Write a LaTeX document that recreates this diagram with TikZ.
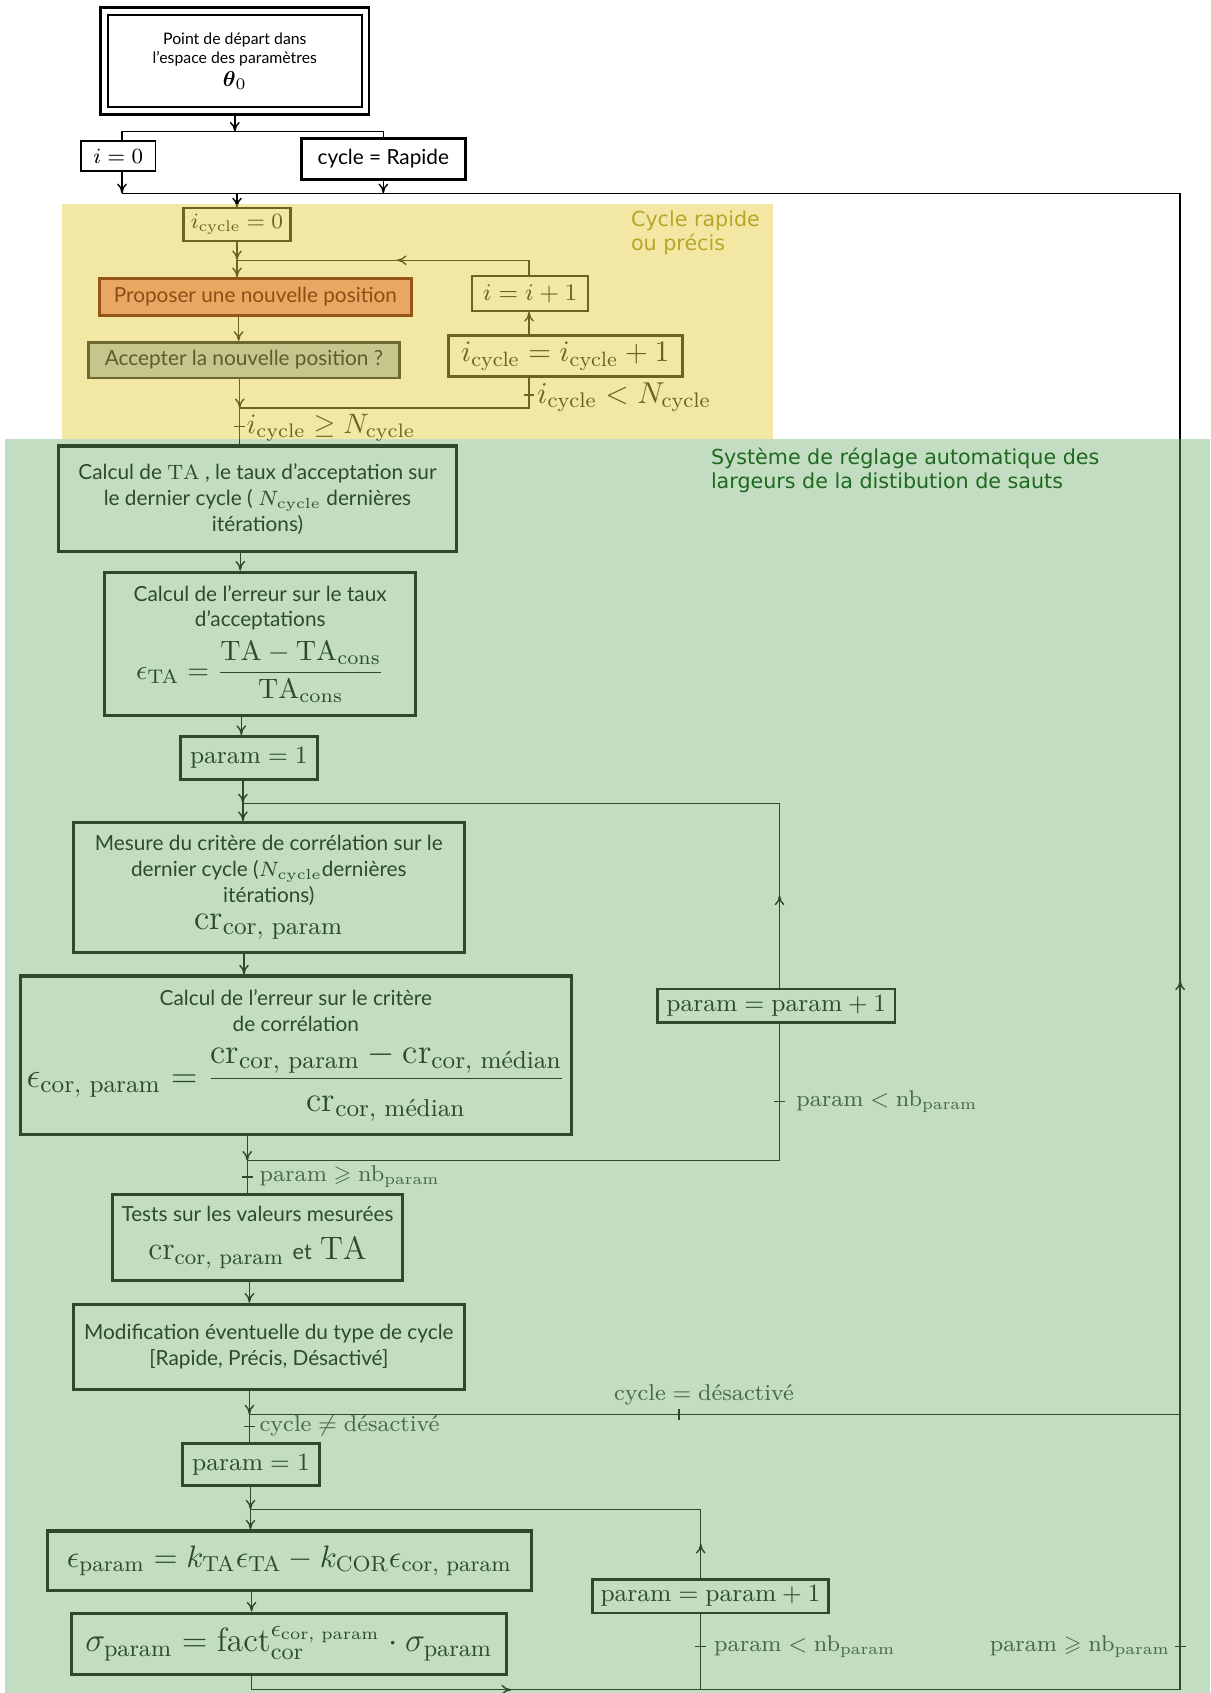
\RequirePackage{fix-cm}
\documentclass[tikz,border=0pt]{standalone}
\usepackage{amsmath,amssymb}
\usepackage{fontspec}
\newfontfamily\gill{Lato}
\newfontfamily\dvs{DejaVu Sans}
\usetikzlibrary{arrows.meta,decorations.markings}
\pgfdeclarelayer{bgl}\pgfdeclarelayer{tint}\pgfdeclarelayer{topl}
\pgfsetlayers{bgl,main,tint,topl}
\newcommand{\txr}[1]{\text{\rmfamily\upshape #1}}
\definecolor{tintY}{rgb}{0.90,0.81,0.25}
\definecolor{tintG}{rgb}{0.43,0.69,0.43}
\definecolor{propFill}{RGB}{232,168,98}
\definecolor{propDraw}{RGB}{150,85,25}
\definecolor{propText}{RGB}{140,78,22}
\definecolor{accFill}{RGB}{197,197,140}
\definecolor{accDraw}{RGB}{105,105,48}
\definecolor{accText}{RGB}{92,92,48}
\definecolor{cycText}{RGB}{184,166,40}
\definecolor{sysText}{RGB}{30,105,30}
\tikzset{
  box/.style={draw, rectangle, inner sep=0pt, align=center},
  wh/.style 2 args={minimum width=#1*0.4pt, minimum height=#2*0.4pt},
  conn/.style={line width=0.52pt},
  arr/.style={conn, -{To[length=3.6pt,width=3.6pt]}},
  midarr/.style={conn, postaction={decorate, decoration={markings, mark=at position #1 with {\arrow{To[length=3.6pt,width=3.6pt]}}}}},
  midarr/.default=0.5,
  tickmark/.style={line width=0.52pt},
  lab/.style={inner sep=0pt, text=black!80, font=\fontsize{8.45}{10}\selectfont},
  gtext/.style={font=\gill\fontsize{7.7}{9.6}\selectfont},
}
\begin{document}
\begin{tikzpicture}[x=0.4pt,y=-0.4pt]
\begin{pgfonlayer}{bgl}
\fill[white] (0,0) rectangle (1121,1568);
\end{pgfonlayer}
\useasboundingbox (0,0) rectangle (1121,1568);

% ---------- top ----------
\node[box, line width=0.88pt, wh={249}{99},
      font=\gill\fontsize{5.86}{7.2}\selectfont] (start) at (217.5,56.5)
  {Point de départ dans\\ l’espace des paramètres\\[1.2pt] {\fontsize{8}{9.6}\selectfont$\boldsymbol{\theta}_0$}};
\draw[line width=0.88pt] ([shift={(8,8)}]start.north west) rectangle ([shift={(-8,-8)}]start.south east);

\node[box, line width=0.72pt, wh={69}{27},
      font=\fontsize{8}{9.6}\selectfont] (ia) at (109.5,144.5) {$i=0$};
\node[box, line width=1.12pt, wh={152}{38},
      font=\gill\fontsize{7.7}{9}\selectfont] (cyc) at (355,147) {cycle = Rapide};

% ---------- yellow part ----------
\node[box, line width=0.8pt, wh={99}{30},
      font=\fontsize{8.1}{10}\selectfont] (icyc0) at (219.5,208) {$i_\txr{cycle}=0$};
\node[box, line width=0.72pt, wh={108}{32},
      font=\fontsize{8.8}{10}\selectfont] (iplus) at (491,272) {$i=i+1$};
\node[box, line width=1.12pt, wh={217}{38},
      font=\fontsize{11}{12}\selectfont] (icycplus) at (523.5,330) {$i_\txr{cycle}=i_\txr{cycle}+1$};
\begin{pgfonlayer}{topl}
\node[box, line width=1pt, draw=propDraw, fill=propFill, text=propText, wh={289}{34},
      font=\gill\fontsize{7.7}{9}\selectfont] (prop) at (236.5,275) {Proposer une nouvelle position};
\node[box, line width=1pt, draw=accDraw, fill=accFill, text=accText, wh={288}{33},
      font=\gill\fontsize{7.7}{9}\selectfont] (acc) at (226,333.5) {Accepter la nouvelle position ?};
\node[anchor=north west, align=left, inner sep=0pt, text=cycText,
      font=\dvs\fontsize{7.65}{8.8}\selectfont] (lcyc) at (584,195) {Cycle rapide\\ou précis};
\node[anchor=north west, align=left, inner sep=0pt, text=sysText,
      font=\dvs\fontsize{7.65}{9.2}\selectfont] (lsys) at (658,414) {Système de réglage automatique des\\largeurs de la distibution de sauts};
\end{pgfonlayer}

% ---------- green part ----------
\node[box, line width=1.2pt, wh={369}{98}, gtext] (calcTA) at (238.5,462)
  {Calcul de $\mathrm{TA}$ , le taux d’acceptation sur\\ le dernier cycle ( $N_\txr{cycle}$ dernières\\ itérations)};
\node[box, line width=1.2pt, wh={288}{133}, gtext] (errTA) at (241,596.5)
  {Calcul de l’erreur sur le taux\\ d’acceptations\\[2.6pt]
   {\fontsize{10.4}{12}\selectfont$\displaystyle\epsilon_\txr{TA}=\frac{\mathrm{TA}-\mathrm{TA}_\txr{cons}}{\mathrm{TA}_\txr{cons}}$}};
\node[box, line width=1pt, wh={127}{40},
      font=\fontsize{9.2}{11}\selectfont] (p1a) at (230.5,702) {$\txr{param}=1$};
\node[box, line width=1.2pt, wh={362}{120}, gtext] (mesure) at (249,822)
  {Mesure du critère de corrélation sur le\\ dernier cycle ($N_\txr{cycle}$dernières\\ itérations)\\[0.3pt]
   {\fontsize{13}{14}\selectfont$\mathrm{cr}_\txr{cor, param}$}};
\node[box, line width=1.2pt, wh={510}{147}, gtext] (errcor) at (274,977.5)
  {Calcul de l’erreur sur le critère\\ de corrélation\\[3.2pt]
   {\fontsize{13}{15}\selectfont$\displaystyle\epsilon_\txr{cor, param}=\frac{\mathrm{cr}_\txr{cor, param}-\mathrm{cr}_\txr{cor, médian}}{\mathrm{cr}_\txr{cor, médian}}$}};
\node[box, line width=1pt, wh={220}{31},
      font=\fontsize{9.2}{11}\selectfont] (pp1) at (719,931.5) {$\txr{param}=\txr{param}+1$};
\node[box, line width=1.2pt, wh={269}{80}, gtext] (tests) at (238.5,1146)
  {Tests sur les valeurs mesurées\\[4.5pt]
   {\fontsize{12}{14}\selectfont$\mathrm{cr}_\txr{cor, param}$ {\gill\fontsize{8}{9}\selectfont et} $\mathrm{TA}$}};
\node[box, line width=1.2pt, wh={362}{79}, gtext] (modif) at (249,1247.5)
  {Modification éventuelle du type de cycle\\ {[}Rapide, Précis, Désactivé{]}};
\node[box, line width=1pt, wh={127}{39},
      font=\fontsize{9.2}{11}\selectfont] (p1b) at (232.5,1356.5) {$\txr{param}=1$};
\node[box, line width=1.2pt, wh={448}{55},
      font=\fontsize{11.5}{13}\selectfont] (epsp) at (268,1445.5)
  {$\epsilon_\txr{param}=k_\txr{TA}\epsilon_\txr{TA}-k_\txr{COR}\epsilon_\txr{cor, param}$};
\node[box, line width=1.2pt, wh={403}{57},
      font=\fontsize{12.45}{14}\selectfont] (sigma) at (267.5,1522.5)
  {$\sigma_\txr{param}=\mathrm{fact}_\txr{cor}^{\epsilon_\txr{cor, param}}\cdot\sigma_\txr{param}$};
\node[box, line width=1pt, wh={218}{31},
      font=\fontsize{9.2}{11}\selectfont] (pp2) at (658,1478.5) {$\txr{param}=\txr{param}+1$};

% ---------- coordinates ----------
\coordinate (c0) at (217.5,122);
\coordinate (cL) at (113,122);
\coordinate (cR) at (355,122);
\coordinate (dL) at (113,179);
\coordinate (dR) at (355,179);
\coordinate (d0) at (219.5,179);
\coordinate (rtop) at (1093,179);
\coordinate (j1) at (219.5,241);
\coordinate (k0) at (490,241);
\coordinate (s1) at (221,0);
\coordinate (j2) at (222,378);
\coordinate (k1) at (490,378);
\coordinate (t1) at (490,366);
\coordinate (t2) at (222,395);
\coordinate (s2) at (222.5,0);
\coordinate (s3) at (223.5,0);
\coordinate (j3) at (225,744);
\coordinate (k3) at (722,744);
\coordinate (s4) at (226,0);
\coordinate (j4) at (229,1075);
\coordinate (k4) at (722,1075);
\coordinate (t3) at (722,1020);
\coordinate (t4) at (229,1090);
\coordinate (s5) at (231,0);
\coordinate (j5) at (231,1310);
\coordinate (r5) at (1093,1310);
\coordinate (t5) at (629,1310);
\coordinate (t6) at (231,1321);
\coordinate (j6) at (232,1398);
\coordinate (k6) at (649,1398);
\coordinate (s6) at (233,0);
\coordinate (b0) at (233,1565);
\coordinate (bR) at (1093,1565);
\coordinate (b1) at (649,1565);
\coordinate (t7) at (649,1525);
\coordinate (t8) at (1093,1525);

% ---------- connectors ----------
\draw[arr] (start.south) -- (c0);
\draw[conn] (cL |- ia.north) -- (cL) -- (cR) -- (cR |- cyc.north);
\draw[arr] (cL |- ia.south) -- (dL);
\draw[arr] (cyc.south -| dR) -- (dR);
\draw[conn] (dL) -- (rtop);
\draw[arr] (d0) -- (icyc0.north);
\draw[arr] (icyc0.south) -- (j1);
\draw[arr] (j1) -- (j1 |- prop.north);
\draw[midarr=0.48] (iplus.north -| k0) -- (k0) -- (j1);
\draw[arr] (prop.south -| s1) -- (acc.north -| s1);
\draw[arr] (acc.south -| j2) -- (j2);
\draw[conn] (j2) -- (k1) -- (icycplus.south -| k1);
\draw[arr] (icycplus.north -| k1) -- (iplus.south -| k1);
\draw[conn] (j2) -- (j2 |- calcTA.north);
\draw[tickmark] ([shift={(-5,0)}]t1) -- ([shift={(5,0)}]t1);
\node[inner sep=0pt, anchor=west, font=\fontsize{11.2}{12}\selectfont] (l1) at ([shift={(7,2)}]t1) {$i_\txr{cycle}<N_\txr{cycle}$};
\draw[tickmark] ([shift={(-5,0)}]t2) -- ([shift={(5,0)}]t2);
\node[inner sep=0pt, anchor=west, font=\fontsize{10.4}{12}\selectfont] (l2) at ([shift={(6,1)}]t2) {$i_\txr{cycle}\geq N_\txr{cycle}$};

\draw[arr] (calcTA.south -| s2) -- (errTA.north -| s2);
\draw[arr] (errTA.south -| s3) -- (p1a.north -| s3);
\draw[arr] (p1a.south -| j3) -- (j3);
\draw[arr] (j3) -- (j3 |- mesure.north);
\draw[midarr] (pp1.north -| k3) -- (k3);
\draw[conn] (k3) -- (j3);
\draw[arr] (mesure.south -| s4) -- (errcor.north -| s4);
\draw[arr] (errcor.south -| j4) -- (j4);
\draw[conn] (j4) -- (k4) -- (pp1.south -| k4);
\draw[tickmark] ([shift={(-5,0)}]t3) -- ([shift={(5,0)}]t3);
\node[lab, anchor=west] (l3) at ([shift={(15,0)}]t3) {$\txr{param}<\txr{nb}_\txr{param}$};
\draw[conn] (j4) -- (j4 |- tests.north);
\draw[tickmark] ([shift={(-5,0)}]t4) -- ([shift={(5,0)}]t4);
\node[lab, anchor=west] (l4) at ([shift={(11,0)}]t4) {$\txr{param}\geqslant\txr{nb}_\txr{param}$};
\draw[arr] (tests.south -| s5) -- (modif.north -| s5);
\draw[arr] (modif.south -| j5) -- (j5);
\draw[conn] (j5) -- (r5);
\draw[tickmark] ([shift={(0,-5)}]t5) -- ([shift={(0,5)}]t5);
\node[lab, anchor=south] (l5) at ([shift={(23,-8)}]t5) {$\txr{cycle}=\txr{désactivé}$};
\draw[conn] (j5) -- (j5 |- p1b.north);
\draw[tickmark] ([shift={(-5,0)}]t6) -- ([shift={(5,0)}]t6);
\node[lab, anchor=west] (l6) at ([shift={(9,0)}]t6) {$\txr{cycle}\neq\txr{désactivé}$};
\draw[arr] (p1b.south -| j6) -- (j6);
\draw[arr] (j6) -- (j6 |- epsp.north);
\draw[midarr] (pp2.north -| k6) -- (k6);
\draw[conn] (k6) -- (j6);
\draw[arr] (epsp.south -| s6) -- (sigma.north -| s6);
\draw[midarr=0.29] (sigma.south -| b0) -- (b0) -- (bR);
\draw[conn] (pp2.south -| b1) -- (b1);
\draw[tickmark] ([shift={(-5,0)}]t7) -- ([shift={(5,0)}]t7);
\node[lab, anchor=west] (l7) at ([shift={(12,0)}]t7) {$\txr{param}<\txr{nb}_\txr{param}$};
\draw[midarr=0.474] (bR) -- (rtop);
\draw[tickmark] ([shift={(-5,0)}]t8) -- ([shift={(5,0)}]t8);
\node[lab, anchor=east] (l8) at ([shift={(-9,0)}]t8) {$\txr{param}\geqslant\txr{nb}_\txr{param}$};

% ---------- tinted regions ----------
\begin{pgfonlayer}{tint}
\fill[tintY, opacity=0.48] (57,189) rectangle (716,407);
\fill[tintG, opacity=0.42] (5,407) rectangle (1121,1568);
\end{pgfonlayer}
\end{tikzpicture}
\end{document}
